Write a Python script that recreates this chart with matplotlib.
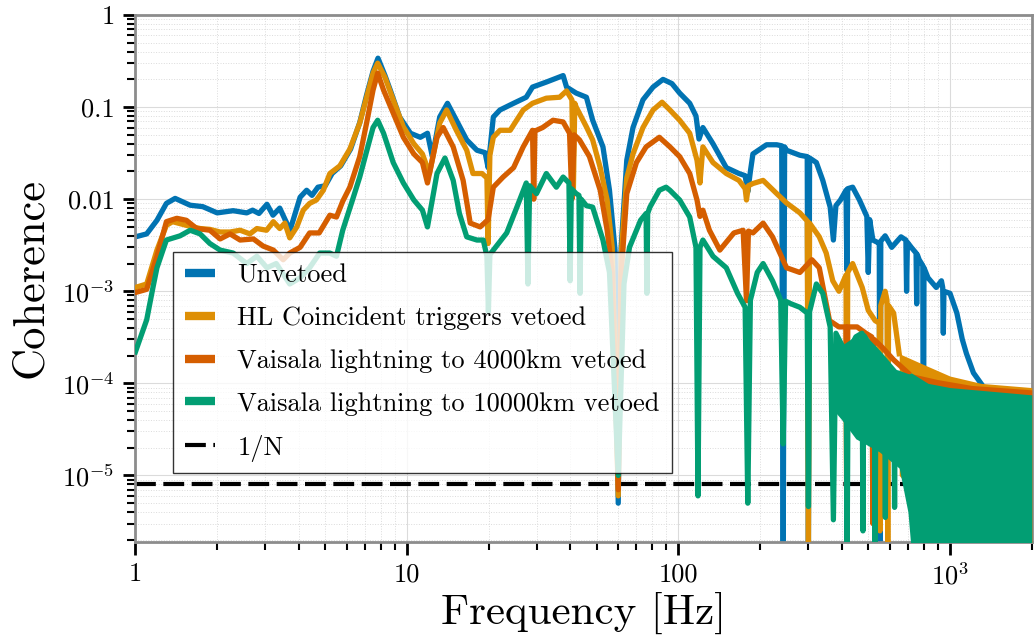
import numpy as np
import matplotlib.pyplot as plt
from matplotlib.ticker import FixedLocator, FixedFormatter, LogLocator, NullFormatter

plt.rcParams['font.family'] = 'serif'
plt.rcParams['font.serif'] = ['cmr10']
plt.rcParams['mathtext.fontset'] = 'cm'
plt.rcParams['axes.unicode_minus'] = False

# coherence spectra read per series (Hz, coherence)
f_unvetoed = [1.0, 1.1, 1.2, 1.3, 1.4, 1.59, 1.77, 2.0, 2.29, 2.57, 2.7, 2.85, 3.05, 3.21, 3.4,
              3.71, 4.04, 4.27, 4.47, 4.7, 5.0, 5.3, 5.7, 6.2, 6.7, 7.1, 7.5, 7.82, 8.3, 8.68,
              9.4, 10.3, 11.2, 11.9, 12.4, 13.2, 14.1, 15.2, 16.6, 18.1, 19.4, 19.9, 20.8, 22,
              24.7, 27.5, 29, 32.6, 37.6, 38.7, 42, 45.8, 48.3, 52.7, 55.7, 58.4, 60, 61.5,
              64.5, 68, 74, 80.6, 87.7, 94.6, 101, 110, 116, 119, 123, 134, 150, 167, 176, 180,
              184, 188, 211, 230, 240, 243, 246, 250, 280, 298, 301, 304, 322, 340, 362, 372,
              380, 395, 414, 417, 420, 438, 464, 494, 500, 506, 520, 540, 549, 552, 556, 577,
              610, 660, 688, 692, 697, 720, 750, 754, 758, 770, 794, 798, 802, 830, 890, 930,
              940, 945, 950, 1000, 1060, 1110, 1150, 1220, 1300]
c_unvetoed = [0.0039, 0.0042, 0.0059, 0.0090, 0.0102, 0.0086, 0.0083, 0.0071, 0.0075, 0.0071,
              0.0076, 0.0070, 0.0088, 0.0067, 0.0080, 0.0046, 0.0105, 0.0125, 0.011, 0.0135,
              0.014, 0.019, 0.023, 0.035, 0.068, 0.135, 0.245, 0.34, 0.22, 0.153, 0.078, 0.052,
              0.047, 0.052, 0.029, 0.078, 0.11, 0.072, 0.044, 0.034, 0.032, 0.022, 0.078, 0.093,
              0.11, 0.128, 0.165, 0.187, 0.22, 0.165, 0.142, 0.128, 0.072, 0.037, 0.0125, 0.0028,
              5e-6, 0.003, 0.0265, 0.06, 0.12, 0.165, 0.2, 0.18, 0.142, 0.11, 0.08, 0.045, 0.06,
              0.04, 0.022, 0.019, 0.018, 0.012, 0.02, 0.031, 0.039, 0.039, 0.038, 1.5e-6, 0.037,
              0.034, 0.030, 0.029, 1.5e-6, 0.028, 0.025, 0.016, 0.0082, 0.0036, 0.0085, 0.0098,
              0.0125, 0.0017, 0.013, 0.0135, 0.0098, 0.0065, 0.0016, 0.006, 0.0036, 0.0034,
              0.0033, 1.5e-6, 0.0035, 0.004, 0.003, 0.0039, 0.0036, 0.001, 0.0034, 0.003, 0.0026,
              7.3e-4, 0.0025, 0.0022, 0.0019, 1.5e-6, 0.0018, 0.0014, 0.0011, 0.0013, 0.0011,
              3.5e-4, 0.001, 9.5e-4, 5.8e-4, 3.0e-4, 2.1e-4, 1.3e-4, 1.0e-4]

f_hl = [1.0, 1.1, 1.2, 1.3, 1.37, 1.54, 1.73, 1.88, 2.05, 2.23, 2.43, 2.64, 2.8, 3.04, 3.22, 3.4,
        3.55, 3.7, 3.93, 4.15, 4.38, 4.64, 4.92, 5.2, 5.66, 6.16, 6.7, 7.1, 7.5, 7.8, 8.3, 8.9,
        9.7, 10.6, 11.4, 12.1, 13.2, 14.0, 15.2, 16.6, 17.5, 18.9, 19.7, 19.9, 20.2, 20.8, 22,
        24, 26.8, 29, 32.6, 36.5, 38.7, 40.5, 41, 41.5, 42, 45.8, 48.3, 51.5, 54.6, 57, 60, 61.5,
        64.5, 68, 74, 80.6, 87, 93, 101, 110, 117, 120, 123, 134, 150, 167, 176, 178, 181, 188,
        205, 230, 250, 280, 298, 301, 304, 330, 350, 370, 390, 414, 417, 420, 438, 475, 500,
        530, 549, 552, 556, 577, 586, 590, 594, 620, 650]
c_hl = [0.0011, 0.0012, 0.0028, 0.0052, 0.0057, 0.0052, 0.0048, 0.0047, 0.0044, 0.0044, 0.0046,
        0.0042, 0.0048, 0.0046, 0.0057, 0.0048, 0.0055, 0.0038, 0.0050, 0.0076, 0.0090, 0.0098,
        0.0125, 0.019, 0.023, 0.035, 0.067, 0.128, 0.234, 0.30, 0.21, 0.12, 0.061, 0.040, 0.031,
        0.019, 0.067, 0.093, 0.056, 0.034, 0.019, 0.019, 0.017, 0.0033, 0.03, 0.047, 0.056,
        0.056, 0.093, 0.11, 0.125, 0.128, 0.15, 0.12, 0.012, 0.11, 0.10, 0.061, 0.044, 0.022,
        0.0098, 0.003, 6e-6, 0.0025, 0.017, 0.031, 0.06, 0.093, 0.113, 0.093, 0.072, 0.052,
        0.0265, 0.015, 0.037, 0.025, 0.019, 0.016, 0.013, 0.0098, 0.014, 0.0148, 0.016, 0.0115,
        0.0091, 0.0071, 0.0058, 1.5e-6, 0.0055, 0.0039, 0.0026, 0.0013, 0.001, 0.0015, 1.5e-6,
        0.0016, 0.002, 0.0011, 6.2e-4, 4.8e-4, 4.5e-4, 2.5e-6, 7e-4, 0.001, 8e-4, 1.5e-6,
        7e-4, 5.8e-4, 2.1e-4]

f_4000km = [1.0, 1.1, 1.2, 1.3, 1.42, 1.54, 1.68, 1.88, 2.05, 2.23, 2.43, 2.72, 2.95, 3.22, 3.5,
            3.7, 4.04, 4.38, 4.75, 5.2, 5.5, 5.8, 6.16, 6.7, 7.1, 7.5, 7.8, 8.2, 8.9, 9.7, 10.6,
            11.4, 11.9, 12.9, 13.6, 14.8, 16.1, 17.1, 18.6, 19.9, 20.8, 22.6, 24.7, 26.8, 29,
            29.3, 29.6, 31.6, 34.5, 37.6, 39.7, 40.5, 41.3, 43.2, 47, 51.5, 54.6, 57, 60, 61.5,
            64.5, 70, 76, 85, 93, 101, 110, 117, 120, 123, 130, 142, 160, 173, 178, 181, 188, 205,
            222, 250, 280, 310, 330, 360, 390, 414, 417, 420, 455, 490, 515, 520, 525, 560, 620,
            700]
c_4000km = [9.7e-4, 0.00105, 0.0024, 0.0057, 0.0062, 0.0059, 0.0048, 0.0046, 0.0037, 0.0042,
            0.0036, 0.0037, 0.0031, 0.0028, 0.0022, 0.0026, 0.003, 0.0043, 0.0043, 0.0067,
            0.0064, 0.0095, 0.0135, 0.029, 0.067, 0.153, 0.234, 0.153, 0.086, 0.047, 0.031,
            0.025, 0.015, 0.047, 0.06, 0.037, 0.016, 0.0055, 0.005, 0.006, 0.0135, 0.0174, 0.022,
            0.037, 0.056, 0.01, 0.055, 0.06, 0.072, 0.069, 0.052, 0.01, 0.05, 0.044, 0.029,
            0.0125, 0.0046, 0.0016, 7e-6, 0.0015, 0.0115, 0.025, 0.037, 0.047, 0.037, 0.029,
            0.019, 0.0098, 0.0065, 0.0076, 0.0046, 0.0028, 0.0043, 0.0046, 7.9e-4, 0.0045, 0.0043,
            0.0055, 0.0039, 0.0018, 0.0016, 0.0022, 0.0018, 4.8e-4, 4.1e-4, 4.1e-4, 1.5e-6,
            4.1e-4, 4.1e-4, 3.5e-4, 3.2e-4, 3e-6, 3.0e-4, 2.5e-4, 1.8e-4, 1.3e-4]

f_10000km = [1.0, 1.1, 1.16, 1.2, 1.3, 1.46, 1.59, 1.73, 1.88, 2.05, 2.29, 2.57, 2.8, 3.05, 3.3,
             3.7, 4.04, 4.38, 4.77, 5.2, 5.5, 5.8, 6.3, 6.7, 7.1, 7.5, 7.8, 8.2, 8.9, 9.7, 10.6,
             11.4, 11.9, 12.9, 13.8, 14.8, 15.6, 16.6, 18.1, 19.1, 19.7, 19.95, 20.2, 20.8, 23.3,
             25.4, 27.5, 27.9, 28.3, 30, 32.6, 35.5, 37.6, 39.5, 39.9, 40.3, 42, 43, 43.4, 43.8,
             45.8, 48.3, 52.7, 55.7, 60, 63, 66, 72.5, 76, 76.5, 77, 78.5, 85, 90, 93, 101, 110,
             116, 118, 120, 123, 134, 150, 165, 176, 180, 184, 195, 205, 222, 238, 243, 248, 260,
             280, 298, 301, 304, 322, 340, 362, 372, 380, 400, 414, 418, 422, 450, 474, 478, 482,
             500, 526, 530, 534, 560, 574, 578, 582, 600, 621, 625, 629, 640, 690]
c_10000km = [2.2e-4, 4.9e-4, 0.0011, 0.0018, 0.0036, 0.004, 0.0046, 0.0042, 0.0033, 0.0028,
             0.0026, 0.002, 0.0024, 0.0018, 0.002, 0.0012, 0.0014, 0.0018, 0.0026, 0.0026,
             0.0024, 0.0046, 0.0098, 0.0174, 0.033, 0.06, 0.072, 0.052, 0.025, 0.015, 0.0098,
             0.0076, 0.005, 0.019, 0.028, 0.016, 0.007, 0.0039, 0.0036, 0.0036, 0.0024, 6e-4,
             0.0025, 0.0028, 0.0043, 0.0082, 0.015, 0.0012, 0.014, 0.0115, 0.019, 0.0135, 0.0174,
             0.015, 0.0013, 0.013, 0.0115, 0.011, 9.5e-4, 0.01, 0.0085, 0.0082, 0.0036, 0.0016,
             1e-5, 0.0012, 0.003, 0.0059, 0.007, 9.5e-4, 0.007, 0.0082, 0.0125, 0.0135, 0.0125,
             0.0098, 0.0064, 0.003, 6e-6, 0.003, 0.0036, 0.0024, 0.0018, 9.5e-4, 6.7e-4, 5e-6,
             8e-4, 0.0016, 0.002, 0.0013, 8e-4, 2.2e-5, 7.8e-4, 7.3e-4, 6.7e-4, 5.8e-4, 4.6e-6,
             6e-4, 0.0012, 9.5e-4, 4.1e-4, 3.3e-6, 3.5e-4, 2.6e-4, 2.1e-4, 1.5e-6, 2.2e-4,
             3.2e-4, 3.5e-4, 2.5e-6, 3.3e-4, 2.8e-4, 2.4e-4, 1.5e-6, 2.3e-4, 1.8e-4, 1.6e-4,
             3.5e-6, 1.6e-4, 1.4e-4, 1.3e-4, 4.5e-6, 1.3e-4, 1.3e-4, 1.2e-4]

# high-frequency noise floor of each spectrum (Hz, lower edge, upper edge)
band_f_unvetoed = [1300, 1500, 2000]
band_lo_unvetoed = [4e-5, 4e-5, 4e-5]
band_hi_unvetoed = [1.0e-4, 9e-5, 9e-5]

band_f_hl = [650, 800, 1000, 1300, 2000]
band_lo_hl = [1e-5, 5e-6, 2e-6, 1.5e-6, 1.5e-6]
band_hi_hl = [2.1e-4, 1.6e-4, 1.2e-4, 1.0e-4, 9e-5]

band_f_4000km = [700, 900, 1200, 2000]
band_lo_4000km = [1e-5, 4e-6, 2e-6, 1.5e-6]
band_hi_4000km = [1.3e-4, 1.1e-4, 9.5e-5, 8.5e-5]

band_f_10000km = [375, 400, 450, 550, 650, 700, 720, 830, 1000, 2000]
band_lo_10000km = [5e-5, 4e-5, 2.5e-5, 1.8e-5, 1.2e-5, 4e-6, 1.5e-6, 1.5e-6, 1.5e-6, 1.5e-6]
band_hi_10000km = [3.5e-4, 2.6e-4, 3.3e-4, 2.3e-4, 1.3e-4, 1.25e-4, 1.3e-4, 1.0e-4, 9e-5, 7.5e-5]

inv_n = 8e-6

series = [
    ('Unvetoed', '#0173b2', f_unvetoed, c_unvetoed, band_f_unvetoed, band_lo_unvetoed, band_hi_unvetoed),
    ('HL Coincident triggers vetoed', '#de8f05', f_hl, c_hl, band_f_hl, band_lo_hl, band_hi_hl),
    ('Vaisala lightning to 4000km vetoed', '#d55e00', f_4000km, c_4000km, band_f_4000km, band_lo_4000km, band_hi_4000km),
    ('Vaisala lightning to 10000km vetoed', '#029e73', f_10000km, c_10000km, band_f_10000km, band_lo_10000km, band_hi_10000km),
]

fig = plt.figure(figsize=(10.34, 6.42), dpi=100)
ax = fig.add_axes([0.131, 0.156, 0.8668, 0.8206])

ax.axhline(inv_n, color='k', lw=3, dashes=(5, 1.8), zorder=1.5, label='1/N')

for i, (lab, col, f, c, bf, blo, bhi) in enumerate(series):
    z = 2 + i
    ax.fill_between(bf, blo, bhi, color=col, lw=0, zorder=z)
    ax.plot(f, c, color=col, lw=3.8, label=lab, zorder=z)

ax.set_xscale('log')
ax.set_yscale('log')
ax.set_xlim(1, 2000)
ax.set_ylim(1.9e-6, 1)

ax.xaxis.set_major_locator(FixedLocator([1, 10, 100, 1000]))
ax.xaxis.set_major_formatter(FixedFormatter(['1', '10', '100', r'$10^3$']))
ax.xaxis.set_minor_locator(LogLocator(base=10, subs=np.arange(2, 10), numticks=20))
ax.xaxis.set_minor_formatter(NullFormatter())
ax.yaxis.set_major_locator(FixedLocator([1e-5, 1e-4, 1e-3, 1e-2, 1e-1, 1]))
ax.yaxis.set_major_formatter(FixedFormatter([r'$10^{-5}$', r'$10^{-4}$', r'$10^{-3}$', '0.01', '0.1', '1']))
ax.yaxis.set_minor_locator(LogLocator(base=10, subs=np.arange(2, 10), numticks=20))
ax.yaxis.set_minor_formatter(NullFormatter())

ax.tick_params(which='major', length=9, width=2, direction='out', color='k',
               labelsize=19, pad=6)
ax.tick_params(which='minor', length=6, width=1.5, direction='out', color='k')

ax.grid(which='major', color='0.86', lw=0.8, ls='-')
ax.grid(which='minor', color='0.86', lw=0.7, ls=':')
ax.set_axisbelow(True)

for sp in ax.spines.values():
    sp.set_color('0.55')
    sp.set_linewidth(2)

ax.set_xlabel('Frequency [Hz]', fontsize=31, labelpad=2)
ax.set_ylabel('Coherence', fontsize=32, labelpad=8)

handles, labels = ax.get_legend_handles_labels()
order = [1, 2, 3, 4, 0]
leg = ax.legend([handles[k] for k in order], [labels[k] for k in order],
                loc='upper left', bbox_to_anchor=(0.0415, 0.5506), borderaxespad=0,
                fontsize=19, fancybox=False, framealpha=0.8, edgecolor='k',
                handlelength=1.15, handletextpad=0.85, borderpad=0.45, labelspacing=0.72)
leg.get_frame().set_linewidth(1.0)
for ln in leg.get_lines()[:4]:
    ln.set_linewidth(6)
    ln.set_solid_capstyle('butt')
leg.set_zorder(10)

fig.savefig('out.png', dpi=100)
